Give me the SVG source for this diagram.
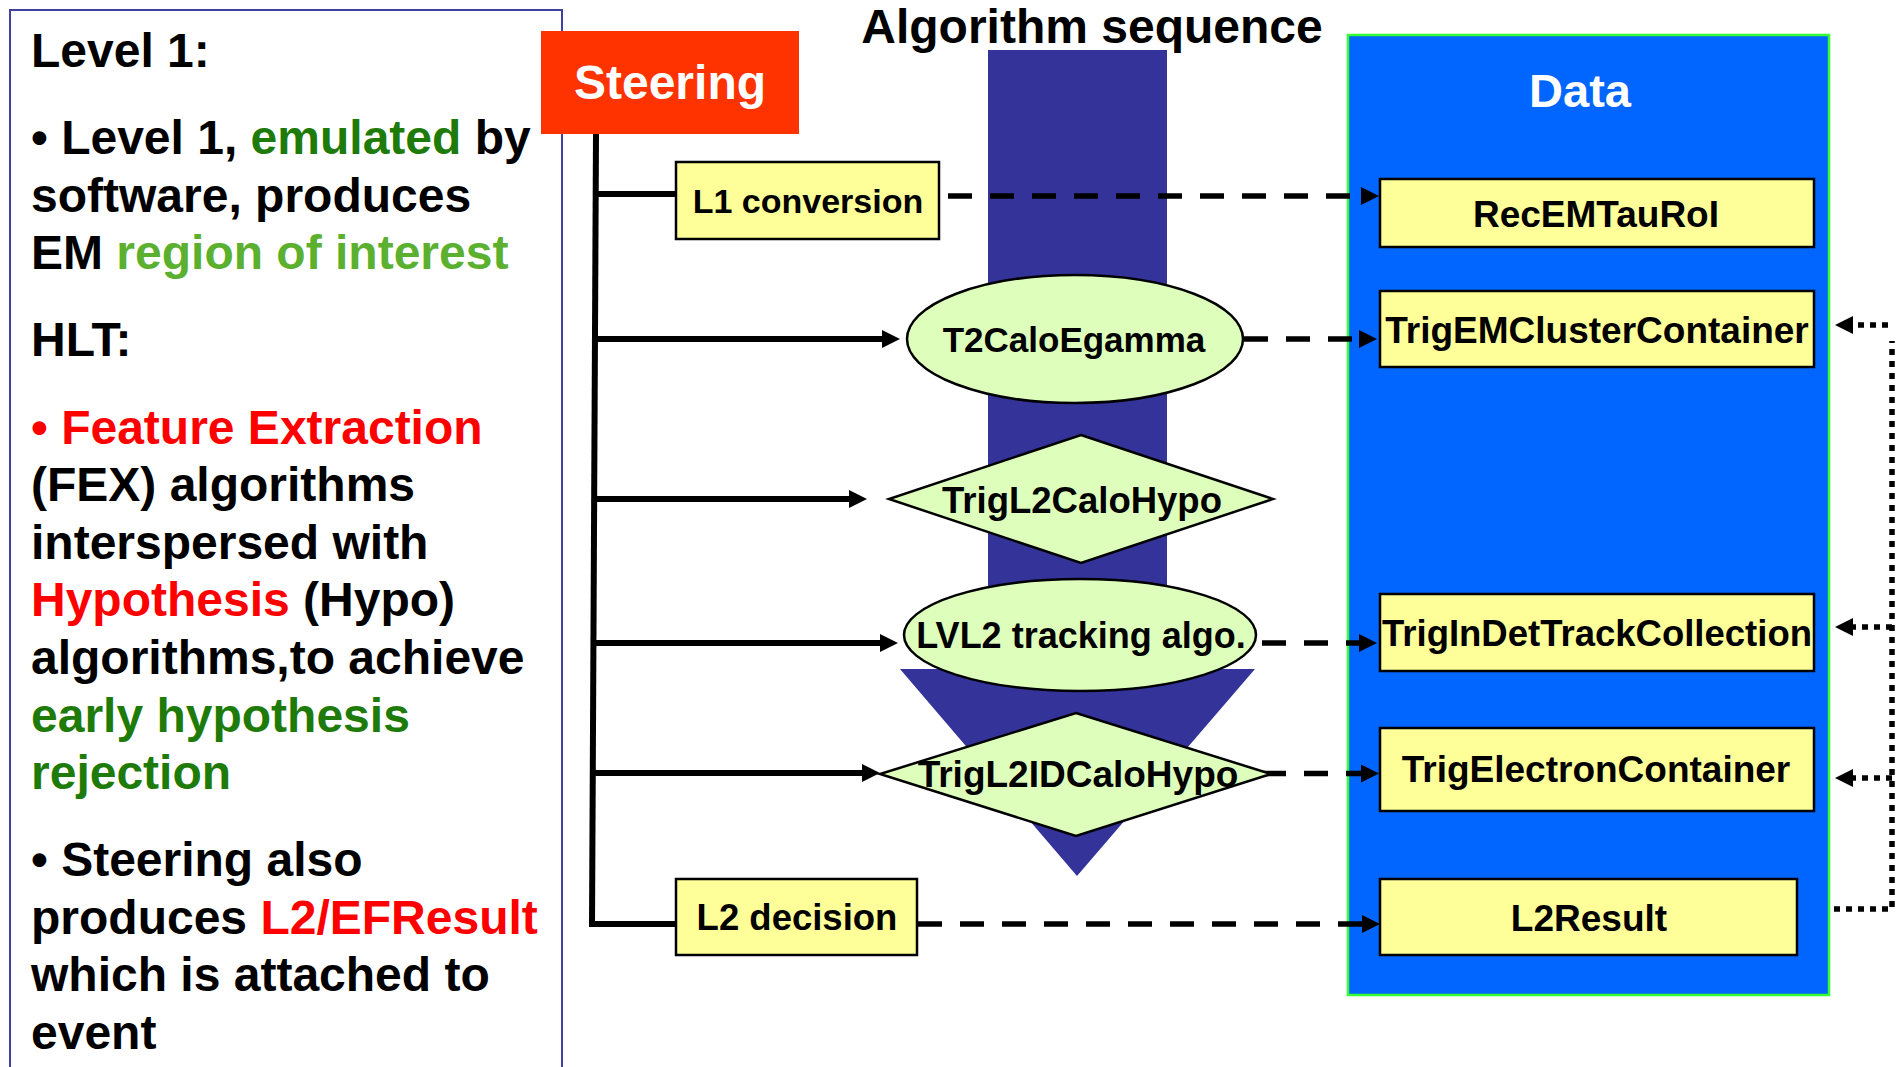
<svg xmlns="http://www.w3.org/2000/svg" width="1903" height="1067" viewBox="0 0 1903 1067">
<defs>
<style>
text{font-family:"Liberation Sans",Arial,sans-serif;font-weight:bold;}
.p{font-size:48px;fill:#000;}
.g1{fill:#1e7b0a;}
.g2{fill:#5bb030;}
.r{fill:#ff0000;}
.lbl{text-anchor:middle;fill:#000;}
.box{fill:#ffff99;stroke:#000;stroke-width:2.5;}
.alg{fill:#ddffbb;stroke:#000;stroke-width:2.5;}
.solid{fill:none;stroke:#000;stroke-width:6;}
.dash{fill:none;stroke:#000;stroke-width:5.5;stroke-dasharray:24 18;}
.dot{fill:none;stroke:#000;stroke-width:5.5;stroke-dasharray:6 6;}
</style>
<marker id="ah" viewBox="0 0 18 18" refX="8" refY="9" markerWidth="18" markerHeight="18" orient="auto" markerUnits="userSpaceOnUse">
<path d="M0,0 L18,9 L0,18 Z" fill="#000"/>
</marker>
</defs>
<rect x="0" y="0" width="1903" height="1067" fill="#fff"/>

<g id="text-panel">
<rect x="10" y="10" width="552" height="1080" fill="#fff" stroke="#4040a0" stroke-width="2"/>
<text class="p" x="31" y="67">Level 1:</text>
<text class="p" x="31" y="154">• Level 1, <tspan class="g1">emulated</tspan> by</text>
<text class="p" x="31" y="211.5">software, produces</text>
<text class="p" x="31" y="269">EM <tspan class="g2">region of interest</tspan></text>
<text class="p" x="31" y="356">HLT:</text>
<text class="p r" x="31" y="443.5">• Feature Extraction</text>
<text class="p" x="31" y="501">(FEX) algorithms</text>
<text class="p" x="31" y="558.5">interspersed with</text>
<text class="p" x="31" y="616"><tspan class="r">Hypothesis</tspan> (Hypo)</text>
<text class="p" x="31" y="674">algorithms,to achieve</text>
<text class="p g1" x="31" y="731.5">early hypothesis</text>
<text class="p g1" x="31" y="789">rejection</text>
<text class="p" x="31" y="876">• Steering also</text>
<text class="p" x="31" y="933.5">produces <tspan class="r">L2/EFResult</tspan></text>
<text class="p" x="31" y="991">which is attached to</text>
<text class="p" x="31" y="1048.5">event</text>
</g>

<g id="steering">
<rect x="541" y="31" width="258" height="103" fill="#ff3300"/>
<text x="670" y="99" style="font-size:48px;fill:#fff;text-anchor:middle">Steering</text>
</g>

<g id="algorithm-sequence">
<text x="1092" y="43" style="font-size:48px;fill:#000;text-anchor:middle">Algorithm sequence</text>
<rect x="988" y="50" width="179" height="620" fill="#333399"/>
<polygon points="900,669 1255,669 1077,876" fill="#333399"/>
</g>

<g id="data">
<rect x="1348" y="35" width="481" height="960" fill="#0066ff" stroke="#33ff33" stroke-width="2.5"/>
<text x="1580" y="107" style="font-size:47px;fill:#fff;text-anchor:middle">Data</text>
</g>

<g id="connectors">
<path class="solid" d="M596,134 L592,927"/>
<path class="solid" d="M594,194 L676,194"/>
<path class="solid" d="M594,339 L890,339" marker-end="url(#ah)"/>
<path class="solid" d="M594,499 L857,499" marker-end="url(#ah)"/>
<path class="solid" d="M593,643 L888,643" marker-end="url(#ah)"/>
<path class="solid" d="M593,773 L870,773" marker-end="url(#ah)"/>
<path class="solid" d="M592,924 L676,924"/>
<path class="dash" d="M948,196 L1369,196" marker-end="url(#ah)"/>
<path class="dash" d="M1244,339 L1367,339" marker-end="url(#ah)"/>
<path class="dash" d="M1262,643 L1367,643" marker-end="url(#ah)"/>
<path class="dash" d="M1262,773.5 L1369,773.5" marker-end="url(#ah)"/>
<path class="dash" d="M918,924 L1370,924" marker-end="url(#ah)"/>
<path class="dot" d="M1888,325 L1845,325" marker-end="url(#ah)"/>
<path class="dot" d="M1892,627 L1845,627" marker-end="url(#ah)"/>
<path class="dot" d="M1892,778 L1845,778" marker-end="url(#ah)"/>
<path class="dot" d="M1834,909 L1892,909 L1892,341"/>
</g>

<g id="l1-conversion">
<rect class="box" x="676" y="162" width="263" height="77"/>
<text class="lbl" x="808" y="213" style="font-size:34px">L1 conversion</text>
</g>
<g id="t2caloegamma">
<ellipse class="alg" cx="1075" cy="339" rx="168" ry="64"/>
<text class="lbl" x="1074" y="352" style="font-size:35px">T2CaloEgamma</text>
</g>
<g id="trigl2calohypo">
<polygon class="alg" points="1081,435 1273,499 1081,563 889,499"/>
<text class="lbl" x="1082" y="513" style="font-size:36.5px">TrigL2CaloHypo</text>
</g>
<g id="lvl2-tracking">
<ellipse class="alg" cx="1080" cy="635" rx="176" ry="56"/>
<text class="lbl" x="1081" y="648" style="font-size:36px">LVL2 tracking algo.</text>
</g>
<g id="trigl2idcalohypo">
<polygon class="alg" points="1076,713 1271,774 1076,836 880,774"/>
<text class="lbl" x="1078" y="787" style="font-size:37px">TrigL2IDCaloHypo</text>
</g>
<g id="l2-decision">
<rect class="box" x="676" y="879" width="241" height="76"/>
<text class="lbl" x="797" y="930" style="font-size:36.5px">L2 decision</text>
</g>

<g id="recemtauroi">
<rect class="box" x="1380" y="179" width="434" height="68"/>
<text class="lbl" x="1596" y="227" style="font-size:37px">RecEMTauRoI</text>
</g>
<g id="trigemclustercontainer">
<rect class="box" x="1380" y="291" width="434" height="76"/>
<text class="lbl" x="1597" y="343" style="font-size:37px">TrigEMClusterContainer</text>
</g>
<g id="trigindettrackcollection">
<rect class="box" x="1380" y="594" width="434" height="77"/>
<text class="lbl" x="1597" y="646" style="font-size:36.5px">TrigInDetTrackCollection</text>
</g>
<g id="trigelectroncontainer">
<rect class="box" x="1380" y="728" width="434" height="83"/>
<text class="lbl" x="1596" y="782" style="font-size:37px">TrigElectronContainer</text>
</g>
<g id="l2result">
<rect class="box" x="1380" y="879" width="417" height="76"/>
<text class="lbl" x="1589" y="931" style="font-size:37px">L2Result</text>
</g>
</svg>
